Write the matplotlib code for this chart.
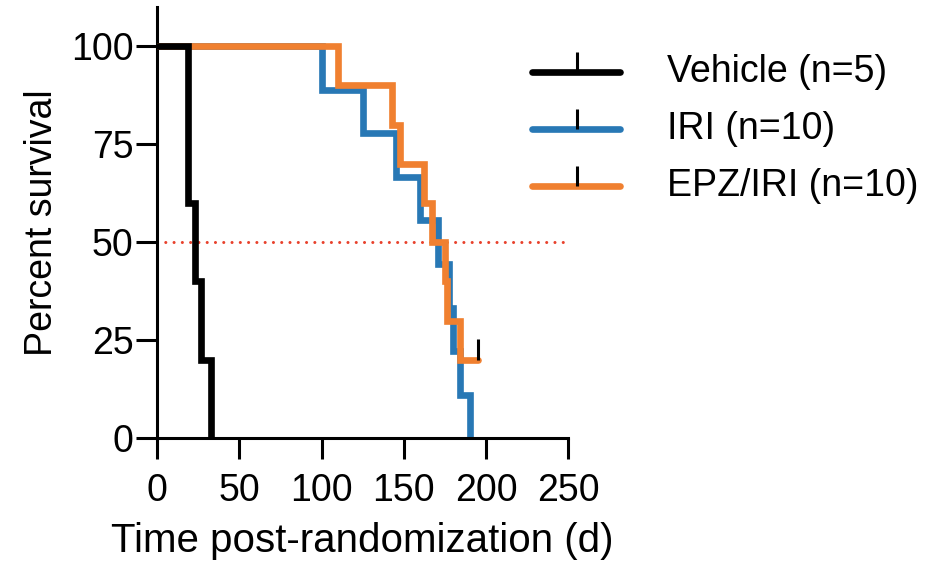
import matplotlib
matplotlib.use("Agg")
import matplotlib.pyplot as plt
from matplotlib.lines import Line2D

plt.rcParams['font.family'] = ['Liberation Sans', 'DejaVu Sans']

# Kaplan-Meier step data: time of each step (days) and survival (%) after it
vehicle_t = [0, 19, 23, 27, 33]
vehicle_s = [100, 60, 40, 20, 0]

iri_t = [0, 100, 125, 145.5, 160, 170.5, 177.5, 180, 184, 190]
iri_s = [100, 88.9, 77.8, 66.7, 55.6, 44.4, 33.3, 22.2, 11.1, 0]

epz_t = [0, 110, 142.7, 148, 162.5, 167, 175, 176.5, 184, 195]
epz_s = [100, 90, 80, 70, 60, 50, 40, 30, 20, 20]

# censored observations (time, survival)
censor_t = [195]
censor_s = [20]

median_x = [0, 250]
median_y = [50, 50]

labels = ["Vehicle (n=5)", "IRI (n=10)", "EPZ/IRI (n=10)"]
colors = ["#000000", "#2878B5", "#F08030"]

x_ticks = [0, 50, 100, 150, 200, 250]
y_ticks = [0, 25, 50, 75, 100]

W, H = 939, 570
fig = plt.figure(figsize=(W / 100, H / 100), dpi=100)
ax = fig.add_axes([157 / W, 1 - 438.3 / H, (568.3 - 157) / W, (438.3 - 7) / H])

ax.plot(median_x, median_y, color="#E8412C", lw=2.2,
        linestyle=(0, (0.01, 2.7)), dash_capstyle="round", zorder=1)

curve_lw = 4.8
ax.plot(iri_t, iri_s, drawstyle="steps-post", color=colors[1], lw=curve_lw,
        solid_capstyle="round", solid_joinstyle="miter", zorder=2)
ax.plot(epz_t, epz_s, drawstyle="steps-post", color=colors[2], lw=curve_lw,
        solid_capstyle="round", solid_joinstyle="miter", zorder=3)
ax.plot(vehicle_t, vehicle_s, drawstyle="steps-post", color=colors[0], lw=curve_lw,
        solid_capstyle="round", solid_joinstyle="miter", zorder=4)

for t, s in zip(censor_t, censor_s):
    ax.plot([t, t], [s, s + 5.2], color="black", lw=2.2, zorder=5,
            solid_capstyle="butt")

ax.set_xlim(0, 250)
ax.set_ylim(0, 110)
ax.set_xticks(x_ticks)
ax.set_yticks(y_ticks)

for side in ("top", "right"):
    ax.spines[side].set_visible(False)
for side in ("left", "bottom"):
    ax.spines[side].set_linewidth(2.2)
ax.tick_params(axis="both", direction="out", length=15, width=2.2,
               labelsize=27, pad=2)
ax.tick_params(axis="x", pad=10)

ax.set_xlabel("Time post-randomization (d)", fontsize=29, labelpad=9)
ax.set_ylabel("Percent survival", fontsize=27, labelpad=8)

# legend drawn in figure coordinates
leg_y = [71.7, 129, 185.7]
for y, c, lab in zip(leg_y, colors, labels):
    fy = 1 - y / H
    fig.add_artist(Line2D([532 / W, 620 / W], [fy, fy], color=c,
                          lw=curve_lw, solid_capstyle="round"))
    fig.add_artist(Line2D([577 / W, 577 / W], [fy, 1 - (y - 20) / H],
                          color="black", lw=2.2, solid_capstyle="butt"))
    fig.text(667 / W, fy, lab, fontsize=27, va="center", ha="left")

fig.savefig("out.png", dpi=100)
